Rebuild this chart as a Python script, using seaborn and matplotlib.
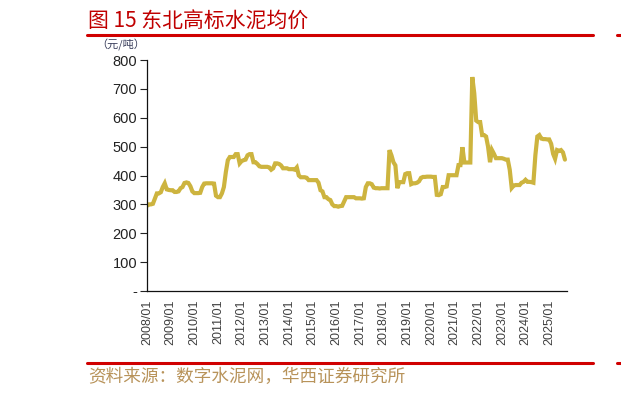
import numpy as np
import pandas as pd
import matplotlib
matplotlib.use("Agg")
import matplotlib.pyplot as plt
import seaborn as sns
from matplotlib.lines import Line2D

# ---- data (monthly, 2008/01 - 2025/09), 元/吨 ----
start_year = 2008
prices = [
    # 2008
    295, 300, 300, 302, 320, 338, 338, 342, 360, 373, 352, 350,
    # 2009
    349, 349, 343, 343, 345, 356, 360, 374, 376, 374, 363, 345,
    # 2010
    339, 339, 339, 340, 360, 372, 373, 373, 373, 373, 372, 330,
    # 2011
    325, 325, 338, 360, 412, 453, 464, 464, 464, 474, 474, 442,
    # 2012
    450, 453, 455, 470, 474, 474, 446, 446, 440, 432, 430, 430,
    # 2013
    430, 430, 428, 420, 425, 442, 442, 440, 435, 425, 425, 425,
    # 2014
    422, 422, 422, 420, 428, 400, 394, 394, 394, 392, 384, 384,
    # 2015
    384, 384, 384, 375, 349, 345, 325, 325, 318, 315, 300, 294,
    # 2016
    294, 292, 294, 295, 310, 325, 325, 325, 325, 325, 321, 321,
    # 2017
    321, 320, 321, 360, 373, 373, 370, 358, 356, 356, 355, 356,
    # 2018
    356, 356, 356, 488, 470, 446, 435, 356, 377, 377, 377, 405,
    # 2019
    408, 408, 370, 373, 373, 375, 380, 392, 395, 395, 396, 396,
    # 2020
    396, 395, 395, 333, 332, 335, 360, 360, 362, 401, 401, 401,
    # 2021
    401, 401, 436, 436, 498, 445, 445, 445, 445, 741, 685, 590,
    # 2022
    585, 585, 540, 540, 535, 500, 446, 488, 475, 460, 460, 460,
    # 2023
    460, 458, 455, 455, 420, 357, 365, 367, 367, 367, 375, 378,
    # 2024
    385, 378, 378, 377, 375, 470, 535, 540, 528, 526, 526, 525,
    # 2025
    525, 510, 475, 458, 488, 485, 488, 480, 455,
]
tick_years = list(range(2008, 2026))
tick_labels = [f"{y}/01" for y in tick_years]
y_ticks = [0, 100, 200, 300, 400, 500, 600, 700, 800]
y_tick_labels = ["-", "100", "200", "300", "400", "500", "600", "700", "800"]

title_text = "图 15 东北高标水泥均价"
unit_text = "（元/吨）"
source_text = "资料来源：数字水泥网，华西证券研究所"

t = [start_year + i / 12 for i in range(len(prices))]
df = pd.DataFrame({"t": t, "price": prices})

# ---- style ----
sns.set_theme(style="white")
plt.rcParams["font.family"] = ["Liberation Sans", "Noto Sans CJK SC", "DejaVu Sans"]

fig = plt.figure(figsize=(6.21, 3.96), dpi=100)
ax = fig.add_axes([147 / 621, 1 - 291 / 396, (567 - 147) / 621, (291 - 60) / 396])

sns.lineplot(data=df, x="t", y="price", ax=ax, color="#CDB43F", linewidth=3.0,
             solid_joinstyle="miter")

ax.set_xlim(2008, 2008 + (567 - 145.7) / 23.73)
ax.set_ylim(0, 800)
ax.set_xticks(tick_years)
ax.set_xticklabels(tick_labels, rotation=90, fontsize=9, color="#404040")
ax.set_yticks(y_ticks)
ax.set_yticklabels(y_tick_labels, fontsize=10.5, color="#222222")
ax.tick_params(axis="x", length=0, pad=6)
ax.tick_params(axis="y", length=5, width=0.8, color="#222222", direction="out", left=True, pad=2)
ax.set_xlabel("")
ax.set_ylabel("")
for s in ["top", "right"]:
    ax.spines[s].set_visible(False)
for s in ["left", "bottom"]:
    ax.spines[s].set_color("#111111")
    ax.spines[s].set_linewidth(0.9)
ax.grid(False)

cjk = ["Noto Sans CJK SC", "DejaVu Sans"]
fig.text(88 / 621, 1 - 20.5 / 396, title_text, fontsize=15, color="#C00000",
         family=cjk, va="center", ha="left")
fig.text(96 / 621, 1 - 45 / 396, unit_text, fontsize=8, color="#3A3F5C",
         family=cjk, va="center", ha="left")
fig.text(88 / 621, 1 - 377 / 396, source_text, fontsize=12.7, color="#B8935A",
         family=cjk, va="center", ha="left")

# red rules
for yy in (34.5, 363):
    fig.add_artist(Line2D([87 / 621, 593 / 621], [1 - yy / 396] * 2, color="#D00000",
                          linewidth=2.2, transform=fig.transFigure))
    fig.add_artist(Line2D([617 / 621, 621 / 621], [1 - yy / 396] * 2, color="#D00000",
                          linewidth=2.2, transform=fig.transFigure))

fig.savefig("out.png", dpi=100)
